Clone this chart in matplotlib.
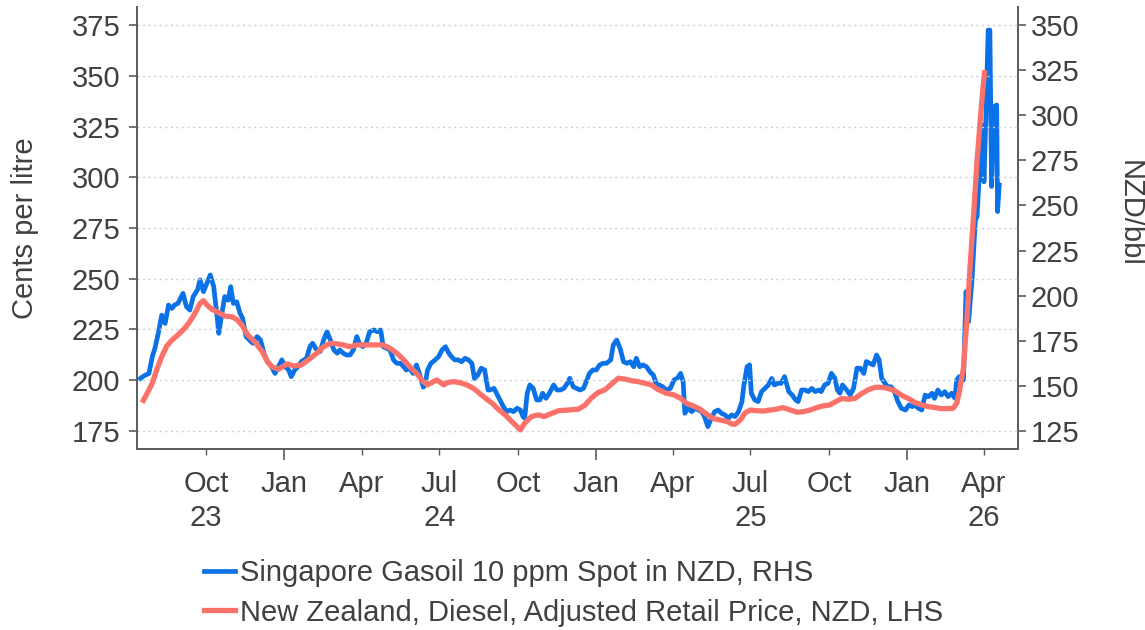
import matplotlib
matplotlib.use('Agg')
import matplotlib.pyplot as plt
import matplotlib.transforms as mtransforms
from matplotlib.lines import Line2D
import pandas as pd

plt.rcParams['font.family'] = ['Liberation Sans', 'DejaVu Sans']

# ---------------- data ----------------
start_date = '2023-07-18'

# Singapore Gasoil 10 ppm spot, NZD/bbl (RHS): days since start_date, value
gasoil_days = [
    -2, 2, 8, 12, 15, 19, 23, 27, 31, 35,
    38, 42, 48, 52, 56, 60, 65, 68, 72, 76,
    80, 84, 88, 90, 93, 97, 101, 104, 107, 111,
    115, 118, 122, 126, 130, 135, 139, 143, 147, 152,
    156, 160, 164, 168, 172, 175, 179, 183, 187, 193,
    197, 200, 205, 209, 213, 217, 221, 225, 229, 232,
    236, 240, 244, 248, 252, 255, 259, 263, 267, 272,
    276, 280, 283, 287, 291, 295, 299, 303, 307, 310,
    314, 318, 322, 326, 330, 332, 335, 339, 344, 348,
    352, 356, 360, 363, 367, 371, 375, 379, 383, 387,
    390, 394, 398, 402, 406, 408, 413, 417, 420, 424,
    428, 432, 436, 440, 444, 447, 449, 452, 455, 459,
    463, 467, 470, 474, 478, 483, 487, 491, 495, 499,
    502, 506, 510, 514, 518, 522, 525, 529, 533, 537,
    541, 545, 550, 553, 557, 561, 565, 569, 573, 577,
    580, 584, 588, 592, 596, 600, 604, 607, 611, 615,
    620, 624, 628, 632, 635, 637, 641, 645, 649, 653,
    657, 660, 664, 668, 672, 676, 680, 684, 688, 692,
    696, 700, 704, 706, 710, 713, 715, 719, 723, 727,
    731, 735, 739, 742, 746, 750, 754, 759, 763, 767,
    770, 774, 778, 782, 786, 790, 794, 797, 801, 805,
    809, 813, 816, 819, 822, 827, 831, 835, 839, 843,
    847, 850, 854, 858, 862, 865, 868, 872, 875, 879,
    883, 887, 891, 896, 900, 904, 907, 911, 915, 919,
    923, 927, 930, 934, 938, 942, 946, 950, 954, 956,
    959, 964, 966, 967, 970, 974, 978, 980, 983, 987,
    988, 990, 993, 995, 997, 1000, 1003, 1004, 1006,
]
gasoil_nzd_bbl = [
    154.1, 155.5, 156.9, 166.2, 170.8, 179.1, 189.2, 184.6, 194.8, 192.9,
    194.8, 195.7, 201.3, 193.9, 192.0, 199.5, 203.2, 208.7, 202.2, 206.8,
    211.5, 205.0, 188.3, 179.1, 188.3, 199.5, 197.5, 205.0, 195.7, 196.6,
    190.2, 187.4, 177.3, 175.4, 173.6, 177.3, 175.4, 168.0, 163.5, 160.6,
    156.9, 160.6, 164.4, 160.6, 158.8, 155.1, 158.8, 160.6, 163.5, 165.3,
    171.7, 173.6, 169.9, 169.0, 175.4, 180.0, 175.4, 169.9, 168.1, 169.9,
    168.1, 167.1, 167.1, 169.9, 177.3, 173.6, 171.7, 173.6, 180.0, 181.0,
    180.0, 181.0, 171.7, 170.8, 169.9, 164.4, 162.5, 162.5, 160.6, 158.8,
    159.8, 156.9, 161.6, 156.0, 149.3, 150.3, 158.8, 162.5, 164.4, 166.2,
    169.9, 171.7, 168.1, 166.2, 164.4, 164.4, 163.4, 165.3, 164.4, 162.5,
    154.1, 156.0, 159.8, 158.8, 147.7, 147.7, 148.6, 144.9, 142.2, 138.5,
    135.7, 136.6, 135.7, 137.6, 136.6, 133.0, 132.0, 145.9, 150.5, 148.6,
    142.2, 142.2, 145.9, 143.1, 145.9, 150.5, 147.7, 147.7, 148.6, 151.4,
    154.2, 149.5, 148.6, 147.7, 148.6, 153.2, 156.9, 158.8, 158.8, 161.6,
    162.5, 162.5, 164.4, 172.7, 175.4, 170.8, 163.4, 162.5, 163.4, 160.6,
    165.3, 160.6, 161.6, 160.6, 157.8, 156.0, 150.5, 150.5, 149.5, 147.7,
    148.6, 153.2, 154.1, 156.9, 152.3, 134.8, 137.6, 135.7, 137.6, 136.6,
    135.7, 133.0, 127.4, 132.0, 135.7, 136.6, 134.8, 133.9, 132.0, 133.9,
    133.0, 135.7, 141.2, 149.5, 160.6, 161.6, 145.9, 142.2, 141.3, 146.8,
    148.6, 150.5, 154.1, 150.5, 151.4, 151.4, 155.1, 146.8, 144.9, 142.2,
    141.3, 147.7, 147.7, 146.8, 148.6, 146.8, 147.7, 146.8, 150.5, 151.4,
    156.9, 154.2, 147.7, 145.9, 150.5, 147.7, 144.9, 148.6, 159.8, 159.8,
    156.9, 163.5, 162.5, 161.6, 167.1, 164.4, 154.2, 151.4, 149.5, 149.5,
    146.8, 141.3, 137.6, 136.6, 139.4, 138.5, 139.4, 137.6, 136.6, 144.9,
    144.0, 145.9, 143.1, 147.7, 144.9, 146.8, 144.0, 145.9, 143.1, 153.2,
    155.1, 153.2, 185.6, 202.2, 185.6, 208.7, 242.0, 243.8, 271.5, 294.5,
    263.1, 293.6, 347.2, 347.2, 260.5, 304.8, 305.7, 246.6, 261.3,
]

# New Zealand diesel adjusted retail price, cents per litre (LHS)
diesel_days = [
    0, 6, 12, 17, 23, 29, 35, 42, 50, 56,
    62, 68, 72, 76, 82, 90, 97, 105, 111, 117,
    124, 132, 141, 147, 152, 160, 170, 179, 187, 195,
    205, 213, 221, 229, 236, 244, 252, 259, 267, 276,
    283, 291, 299, 307, 314, 322, 330, 335, 342, 346,
    354, 358, 365, 373, 381, 389, 396, 404, 411, 418,
    426, 434, 444, 449, 457, 465, 472, 481, 489, 500,
    512, 520, 527, 535, 543, 552, 559, 567, 575, 582,
    590, 598, 605, 615, 624, 632, 639, 647, 655, 662,
    670, 678, 687, 692, 696, 702, 708, 714, 721, 729,
    737, 744, 752, 761, 769, 776, 784, 792, 799, 807,
    815, 821, 829, 837, 845, 852, 860, 868, 875, 883,
    891, 900, 907, 915, 923, 931, 938, 946, 952, 956,
    959, 964, 968, 972, 976, 980, 984, 987, 989,
]
diesel_cpl = [
    188.9, 193.6, 198.5, 205.0, 211.6, 216.9, 219.8, 222.3, 225.6, 228.9,
    233.0, 237.9, 239.2, 237.1, 234.9, 233.3, 231.6, 231.3, 230.0, 227.2,
    222.3, 219.0, 214.1, 209.2, 206.7, 205.4, 208.0, 207.0, 207.5, 210.0,
    213.3, 216.5, 218.2, 217.9, 217.4, 216.5, 217.4, 217.4, 217.4, 217.4,
    217.4, 215.7, 213.3, 210.0, 206.7, 203.4, 199.3, 197.7, 199.3, 200.1,
    197.7, 198.8, 199.3, 198.8, 197.7, 196.0, 193.5, 190.8, 188.6, 185.7,
    182.9, 179.6, 175.5, 178.8, 182.1, 182.9, 182.1, 183.7, 185.0, 185.3,
    185.7, 187.8, 191.1, 193.9, 195.2, 198.5, 201.0, 200.5, 199.7, 199.3,
    198.5, 197.7, 195.5, 193.6, 192.8, 191.1, 188.6, 187.3, 185.7, 183.4,
    181.2, 180.4, 179.6, 178.4, 178.3, 180.4, 184.0, 185.3, 185.0, 184.8,
    185.3, 185.7, 186.5, 185.3, 184.2, 184.5, 185.3, 186.5, 187.3, 187.8,
    189.6, 191.0, 190.6, 191.1, 193.6, 195.2, 196.5, 196.5, 196.0, 194.9,
    192.7, 190.8, 189.0, 187.8, 187.0, 186.5, 186.0, 186.0, 186.2, 188.6,
    194.0, 206.0, 229.7, 257.6, 282.2, 308.5, 329.8, 344.6, 352.8,
]

left_ticks = [175, 200, 225, 250, 275, 300, 325, 350, 375]
right_ticks = [125, 150, 175, 200, 225, 250, 275, 300, 325, 350]
jan_dates = ['2024-01-01', '2025-01-01', '2026-01-01']
quarter_dates = ['2023-10-01', '2024-04-01', '2024-07-01', '2024-10-01',
                 '2025-04-01', '2025-07-01', '2025-10-01', '2026-04-01']
quarter_labels = ['Oct', 'Apr', 'Jul', 'Oct', 'Apr', 'Jul', 'Oct', 'Apr']
year_label_dates = ['2023-10-01', '2024-07-01', '2025-07-01', '2026-04-01']
year_labels = ['23', '24', '25', '26']

gasoil_label = 'Singapore Gasoil 10 ppm Spot in NZD, RHS'
diesel_label = 'New Zealand, Diesel, Adjusted Retail Price, NZD, LHS'

# ---------------- styling ----------------
BLUE = '#0a72e6'
RED = '#fb726a'
TEXT = '#404040'
SPINE = '#5a5a5a'
GRID = '#c5d0d8'
FS = 21

start = pd.Timestamp(start_date)
g_dates = start + pd.to_timedelta(gasoil_days, unit='D')
d_dates = start + pd.to_timedelta(diesel_days, unit='D')

fig = plt.figure(figsize=(11.45, 6.3), dpi=100)
W, H = 1145, 630
ax = fig.add_axes([137 / W, 1 - 449 / H, (1018 - 137) / W, (449 - 7) / H])
ax2 = ax.twinx()

ax2.plot(g_dates, gasoil_nzd_bbl, color=BLUE, lw=3.4, solid_joinstyle='round')
ax.plot(d_dates, diesel_cpl, color=RED, lw=3.8, solid_joinstyle='round',
        solid_capstyle='butt')

ax.set_zorder(ax2.get_zorder() + 1)
ax.patch.set_visible(False)

ax.set_xlim(start - pd.Timedelta(days=6), start + pd.Timedelta(days=1028))
ax.set_ylim(166.1, 383.9)
ax2.set_ylim(115.0, 360.0)

ax.set_yticks(left_ticks)
ax2.set_yticks(right_ticks)
ax.yaxis.grid(True, linestyle=(0, (1.5, 2.5)), color=GRID, lw=1.0)
ax.set_axisbelow(True)

ax.set_xticks(pd.to_datetime(jan_dates))
ax.set_xticklabels(['Jan'] * len(jan_dates))
ax.set_xticks(pd.to_datetime(quarter_dates), minor=True)
ax.set_xticklabels(quarter_labels, minor=True)

ax.tick_params(axis='x', which='major', length=8, width=1.2, color=SPINE,
               labelsize=FS, labelcolor=TEXT, pad=7)
ax.tick_params(axis='x', which='minor', length=4, width=1.0, color=SPINE,
               labelsize=FS, labelcolor=TEXT, pad=11)
ax.tick_params(axis='y', length=6, width=1.2, color=SPINE, labelsize=FS,
               labelcolor=TEXT, pad=6)
ax2.tick_params(axis='y', length=6, width=1.2, color=SPINE, labelsize=FS,
                labelcolor=TEXT, pad=3)

for a in (ax, ax2):
    a.spines['top'].set_visible(False)
    for s in ('left', 'right', 'bottom'):
        a.spines[s].set_color(SPINE)
        a.spines[s].set_linewidth(1.4)
ax.spines['right'].set_visible(False)
ax2.spines['left'].set_visible(False)
ax2.spines['bottom'].set_visible(False)

ytrans = mtransforms.blended_transform_factory(ax.transData, fig.transFigure)
for dstr, lab in zip(year_label_dates, year_labels):
    ax.text(pd.Timestamp(dstr), 1 - 518 / H, lab, transform=ytrans,
            ha='center', va='center', fontsize=FS, color=TEXT)

fig.text(25 / W, 1 - 228 / H, 'Cents per litre', rotation=90,
         ha='center', va='center', fontsize=FS, color=TEXT)
fig.text(1130 / W, 1 - 213 / H, 'NZD/bbl', rotation=270,
         ha='center', va='center', fontsize=FS, color=TEXT)

handles = [Line2D([], [], color=BLUE, lw=3.4), Line2D([], [], color=RED, lw=3.8)]
fig.legend(handles, [gasoil_label, diesel_label], loc='upper left',
           bbox_to_anchor=(204 / W, 1 - 559 / H), frameon=False,
           fontsize=FS, handlelength=1.05, handletextpad=0.2,
           labelspacing=0.4, borderpad=0, borderaxespad=0,
           labelcolor=TEXT)

fig.savefig('out.png', dpi=100)
